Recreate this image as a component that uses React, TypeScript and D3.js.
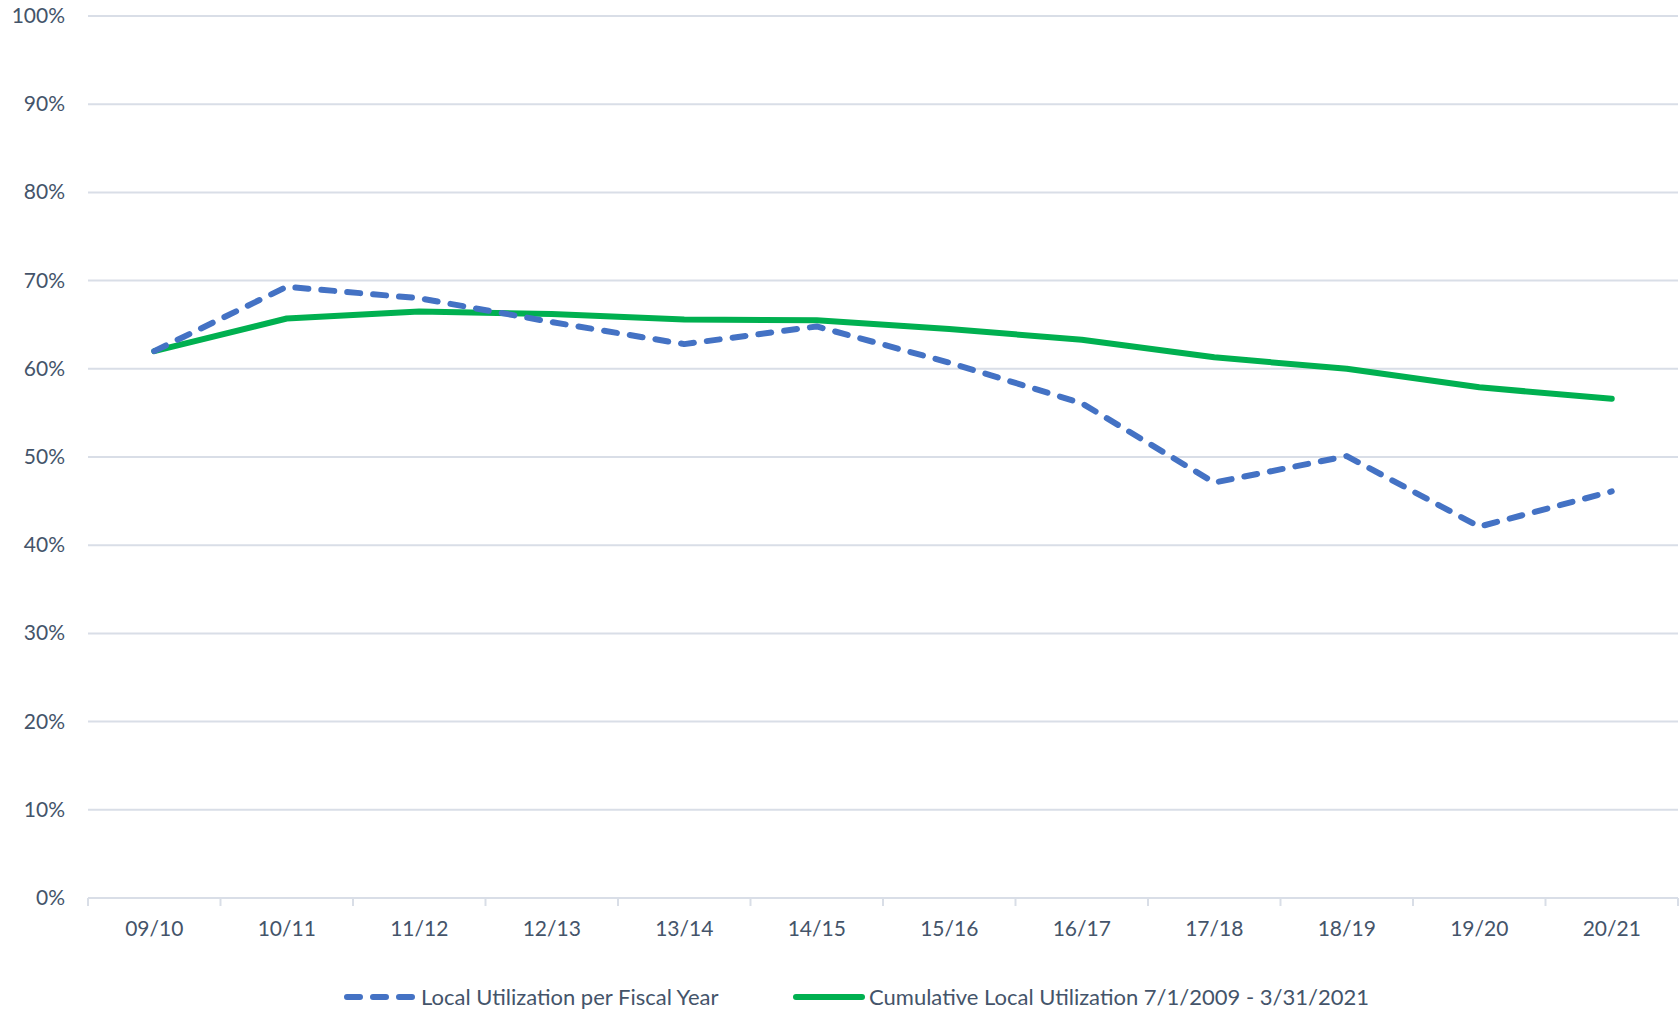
import React, { useEffect, useRef } from "react";
import * as d3 from "d3";

const years = ["09/10", "10/11", "11/12", "12/13", "13/14", "14/15", "15/16", "16/17", "17/18", "18/19", "19/20", "20/21"];
const perYear = [62.0, 69.3, 68.0, 65.3, 62.8, 64.8, 60.7, 56.1, 47.1, 50.1, 42.1, 46.1];
const cumulative = [62.0, 65.7, 66.5, 66.2, 65.6, 65.5, 64.5, 63.3, 61.3, 60.0, 57.9, 56.6];
const yTicks = [0, 10, 20, 30, 40, 50, 60, 70, 80, 90, 100];
const seriesNames = ["Local Utilization per Fiscal Year", "Cumulative Local Utilization 7/1/2009 - 3/31/2021"];

const App = () => {
  const svgRef = useRef<SVGSVGElement>(null);

  useEffect(() => {
    const width = 1680, height = 1013;
    const left = 88, right = 1678, top = 16, bottom = 898;
    const textColor = "#44546A";
    const gridColor = "#D9DEE7";
    const font = "Lato, 'Open Sans', sans-serif";

    const svg = d3.select(svgRef.current)
      .attr("width", width)
      .attr("height", height)
      .style("background", "#fff");
    svg.selectAll("*").remove();

    const x = d3.scaleBand().domain(years).range([left, right]);
    const y = d3.scaleLinear().domain([0, 100]).range([bottom, top]);

    // gridlines + y labels
    svg.append("g").selectAll("line")
      .data(yTicks)
      .enter().append("line")
      .attr("x1", left).attr("x2", right)
      .attr("y1", d => y(d)).attr("y2", d => y(d))
      .attr("stroke", gridColor)
      .attr("stroke-width", 2);

    svg.append("g").selectAll("text")
      .data(yTicks)
      .enter().append("text")
      .attr("x", 65)
      .attr("y", d => y(d) + 7)
      .attr("text-anchor", "end")
      .attr("font-family", font)
      .attr("font-size", 21)
      .attr("fill", textColor)
      .text(d => d + "%");

    // category boundary ticks
    const bounds = years.map(d => x(d)!).concat([right]);
    svg.append("g").selectAll("line")
      .data(bounds)
      .enter().append("line")
      .attr("x1", d => d).attr("x2", d => d)
      .attr("y1", bottom).attr("y2", bottom + 8)
      .attr("stroke", gridColor)
      .attr("stroke-width", 2);

    svg.append("g").selectAll("text")
      .data(years)
      .enter().append("text")
      .attr("x", d => x(d)! + x.bandwidth() / 2)
      .attr("y", 936)
      .attr("text-anchor", "middle")
      .attr("font-family", font)
      .attr("font-size", 21)
      .attr("fill", textColor)
      .text(d => d);

    const line = d3.line<number>()
      .x((_, i) => x(years[i])! + x.bandwidth() / 2)
      .y(d => y(d));

    svg.append("path")
      .datum(cumulative)
      .attr("d", line)
      .attr("fill", "none")
      .attr("stroke", "#00B050")
      .attr("stroke-width", 6)
      .attr("stroke-linejoin", "round")
      .attr("stroke-linecap", "round");

    svg.append("path")
      .datum(perYear)
      .attr("d", line)
      .attr("fill", "none")
      .attr("stroke", "#4472C4")
      .attr("stroke-width", 6)
      .attr("stroke-dasharray", "13 13")
      .attr("stroke-linejoin", "round")
      .attr("stroke-linecap", "round");

    // legend
    const legendY = 997;
    const legend = [
      { x: 347, w: 66, color: "#4472C4", dash: "13 13", tx: 421 },
      { x: 796, w: 66, color: "#00B050", dash: null, tx: 869 },
    ];
    legend.forEach((l, i) => {
      svg.append("line")
        .attr("x1", l.x).attr("x2", l.x + l.w)
        .attr("y1", legendY).attr("y2", legendY)
        .attr("stroke", l.color)
        .attr("stroke-width", 6)
        .attr("stroke-linecap", "round")
        .attr("stroke-dasharray", l.dash);
      svg.append("text")
        .attr("x", l.tx)
        .attr("y", legendY + 8)
        .attr("font-family", font)
        .attr("font-size", 22)
        .attr("fill", textColor)
        .text(seriesNames[i]);
    });
  }, []);

  return <svg ref={svgRef} style={{ position: "absolute", left: 0, top: 0, display: "block" }}></svg>;
};

export default App;
